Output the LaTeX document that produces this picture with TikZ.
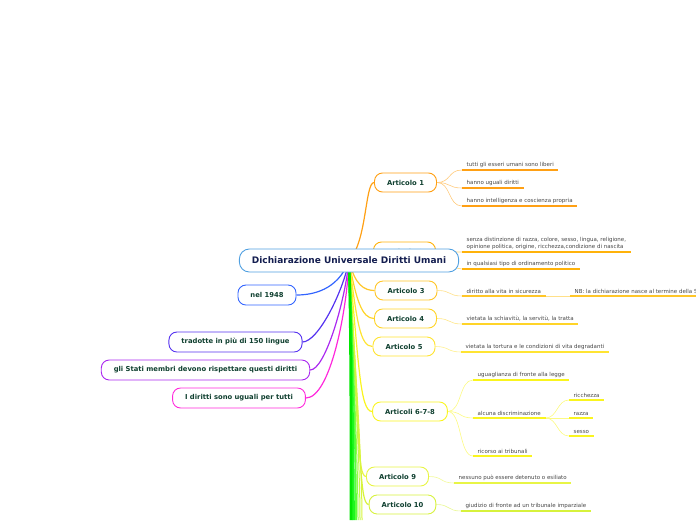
\documentclass[tikz,border=0pt]{standalone}
\usepackage{fontspec}
\setmainfont{DejaVu Sans}
\usetikzlibrary{backgrounds}

\definecolor{rootline}{RGB}{80,160,225}
\definecolor{roottext}{RGB}{20,30,80}
\definecolor{nodetext}{RGB}{16,64,48}
\definecolor{leaftext}{RGB}{70,70,70}
\definecolor{aone}{RGB}{255,160,20}
\definecolor{atwo}{RGB}{255,178,10}
\definecolor{athree}{RGB}{255,198,40}
\definecolor{afour}{RGB}{255,212,40}
\definecolor{afive}{RGB}{255,228,50}
\definecolor{asix}{RGB}{250,245,30}
\definecolor{anine}{RGB}{232,245,70}
\definecolor{aten}{RGB}{215,242,60}
\definecolor{lyear}{RGB}{50,100,255}
\definecolor{llang}{RGB}{85,50,240}
\definecolor{lstate}{RGB}{170,40,240}
\definecolor{lequal}{RGB}{255,40,220}

\begin{document}
\begin{tikzpicture}[
  x=1pt, y=-1pt,
  root/.style={rectangle, draw=rootline, line width=0.9pt, fill=white, rounded corners=10pt, minimum height=23pt, inner xsep=12.5pt, text=roottext, font=\fontsize{9}{11}\selectfont\bfseries},
  art/.style={rectangle, draw=#1, line width=0.9pt, fill=white, rounded corners=8pt, minimum height=19pt, inner xsep=12.5pt, inner ysep=2pt, text=nodetext, font=\fontsize{6.8}{8}\selectfont\bfseries},
  side/.style={art=#1, minimum height=20pt},
  leaf/.style={anchor=south west, inner xsep=4.5pt, inner ysep=2.5pt, align=left, text=leaftext, font=\fontsize{5.5}{6.8}\selectfont,
    append after command={(\tikzlastnode.south west) edge[draw=#1, line width=1.4pt] (\tikzlastnode.south east)}},
  br/.style={draw=#1, line width=1.2pt},
  twig/.style={draw=#1!55, line width=0.6pt},
]
\useasboundingbox (0,0) rectangle (696,520);
\clip (0,0) rectangle (696,520);

% ---------------- articles ----------------
\node[art=aone]   (a1)  at (405.5,182.5) {Articolo 1};
\node[art=atwo]   (a2)  at (404.5,251.5) {Articolo 2};
\node[art=athree] (a3)  at (406,290.5)   {Articolo 3};
\node[art=afour]  (a4)  at (405.5,318.5) {Articolo 4};
\node[art=afive]  (a5)  at (404,346.5)   {Articolo 5};
\node[art=asix]   (a6)  at (410,411.5)   {Articoli 6-7-8};
\node[art=anine]  (a9)  at (397.5,476.5) {Articolo 9};
\node[art=aten]   (a10) at (402.5,504.5) {Articolo 10};

% ---------------- root and left side ----------------
\node[root] (cen) at (349,260.5) {Dichiarazione Universale Diritti Umani};
\node[side=lyear]  (year)  at (267,295)   {nel 1948};
\node[side=llang]  (lang)  at (235.5,342) {tradotte in più di 150 lingue};
\node[side=lstate] (state) at (205.5,370) {gli Stati membri devono rispettare questi diritti};
\node[side=lequal] (equal) at (239,398)   {I diritti sono uguali per tutti};

% ---------------- leaves ----------------
\node[leaf=aone] (l11) at (462,170) {tutti gli esseri umani sono liberi};
\node[leaf=aone] (l12) at (462,188) {hanno uguali diritti};
\node[leaf=aone] (l13) at (462,206) {hanno intelligenza e coscienza propria};

\node[leaf=atwo] (l21) at (462,252) {senza distinzione di razza, colore, sesso, lingua, religione,\\opinione politica, origine, ricchezza,condizione di nascita};
\node[leaf=atwo] (l22) at (462,269) {in qualsiasi tipo di ordinamento politico};

\node[leaf=athree] (l31) at (462,296) {diritto alla vita in sicurezza};
\node[leaf=athree] (l32) at (570,296) {NB: la dichiarazione nasce al termine della Seconda Guerra Mondiale};

\node[leaf=afour] (l41) at (462,324) {vietata la schiavitù, la servitù, la tratta};
\node[leaf=afive] (l51) at (461,352) {vietata la tortura e le condizioni di vita degradanti};

\node[leaf=asix] (l61) at (473,380) {uguaglianza di fronte alla legge};
\node[leaf=asix] (l62) at (473,418) {alcuna discriminazione};
\node[leaf=asix] (l63) at (473,456) {ricorso ai tribunali};
\node[leaf=asix] (l64) at (569,400) {ricchezza};
\node[leaf=asix] (l65) at (569,418) {razza};
\node[leaf=asix] (l66) at (569,436) {sesso};

\node[leaf=anine] (l91)  at (454,483) {nessuno può essere detenuto o esiliato};
\node[leaf=aten]  (l101) at (461,511) {giudizio di fronte ad un tribunale imparziale};

% free ends of the branches below the page
\coordinate (g1) at (351,520);
\coordinate (g2) at (353.5,520);
\coordinate (g3) at (356,520);
\coordinate (g4) at (358,520);
\coordinate (g5) at (360,520);
\coordinate (g6) at (362,520);

% ---------------- connectors ----------------
\begin{scope}[on background layer]
\clip (0,0) rectangle (696,520);
\draw[br=aone]   (cen.center) .. controls (367,242) and (365,182.5) .. (a1.west);
\draw[br=atwo]   (cen.center) .. controls (360,256) and (365,251.5) .. (a2.west);
\draw[br=athree] (cen.center) .. controls (355,285) and (364,290.5) .. (a3.west);
\draw[br=afour]  (cen.center) .. controls (356,300) and (362,318.5) .. (a4.west);
\draw[br=afive]  (cen.center) .. controls (357,322) and (360,346.5) .. (a5.west);
\draw[br=asix]   (cen.center) .. controls (359,365) and (360,411.5) .. (a6.west);
\draw[br=anine]  (cen.center) .. controls (359,425) and (357,476.5) .. (a9.west);
\draw[br=aten]   (cen.center) .. controls (361,445) and (359,504.5) .. (a10.west);

\draw[br=lyear]  (cen.center) .. controls (340,285) and (320,295) .. (year.east);
\draw[br=llang]  (cen.center) .. controls (343,292) and (318,342) .. (lang.east);
\draw[br=lstate] (cen.center) .. controls (345,302) and (325,370) .. (state.east);
\draw[br=lequal] (cen.center) .. controls (347,312) and (330,398) .. (equal.east);

\draw[draw={rgb,255:red,215;green,245;blue,60}, line width=1pt]   (cen.center) .. controls (352,320) and (362,450) .. (g6);
\draw[draw={rgb,255:red,190;green,248;blue,70}, line width=1pt]   (cen.center) .. controls (351,320) and (360,450) .. (g5);
\draw[draw={rgb,255:red,150;green,250;blue,70}, line width=1pt]   (cen.center) .. controls (351,320) and (358,450) .. (g4);
\draw[draw={rgb,255:red,90;green,255;blue,60}, line width=1.8pt]  (cen.center) .. controls (352,320) and (356,450) .. (g3);
\draw[draw={rgb,255:red,30;green,245;blue,30}, line width=2.6pt]  (cen.center) .. controls (351,320) and (353.5,450) .. (g2);
\draw[draw={rgb,255:red,0;green,230;blue,0}, line width=2.6pt]    (cen.center) .. controls (351,320) and (351,450) .. (g1);

\draw[twig=aone] (a1.east) .. controls +(14,0) and +(-14,0) .. (l11.south west);
\draw[twig=aone] (a1.east) .. controls +(14,0) and +(-14,0) .. (l12.south west);
\draw[twig=aone] (a1.east) .. controls +(14,0) and +(-14,0) .. (l13.south west);
\draw[twig=atwo] (a2.east) .. controls +(14,0) and +(-14,0) .. (l21.south west);
\draw[twig=atwo] (a2.east) .. controls +(14,0) and +(-14,0) .. (l22.south west);
\draw[twig=athree] (a3.east) .. controls +(14,0) and +(-14,0) .. (l31.south west);
\draw[twig=athree] (l31.south east) -- (l32.south west);
\draw[twig=afour] (a4.east) .. controls +(14,0) and +(-14,0) .. (l41.south west);
\draw[twig=afive] (a5.east) .. controls +(14,0) and +(-14,0) .. (l51.south west);
\draw[twig=asix] (a6.east) .. controls +(14,0) and +(-14,0) .. (l61.south west);
\draw[twig=asix] (a6.east) .. controls +(14,0) and +(-14,0) .. (l62.south west);
\draw[twig=asix] (a6.east) .. controls +(14,0) and +(-14,0) .. (l63.south west);
\draw[twig=asix] (l62.south east) .. controls +(12,0) and +(-12,0) .. (l64.south west);
\draw[twig=asix] (l62.south east) -- (l65.south west);
\draw[twig=asix] (l62.south east) .. controls +(12,0) and +(-12,0) .. (l66.south west);
\draw[twig=anine] (a9.east) .. controls +(14,0) and +(-14,0) .. (l91.south west);
\draw[twig=aten] (a10.east) .. controls +(14,0) and +(-14,0) .. (l101.south west);
\end{scope}
\end{tikzpicture}
\end{document}
